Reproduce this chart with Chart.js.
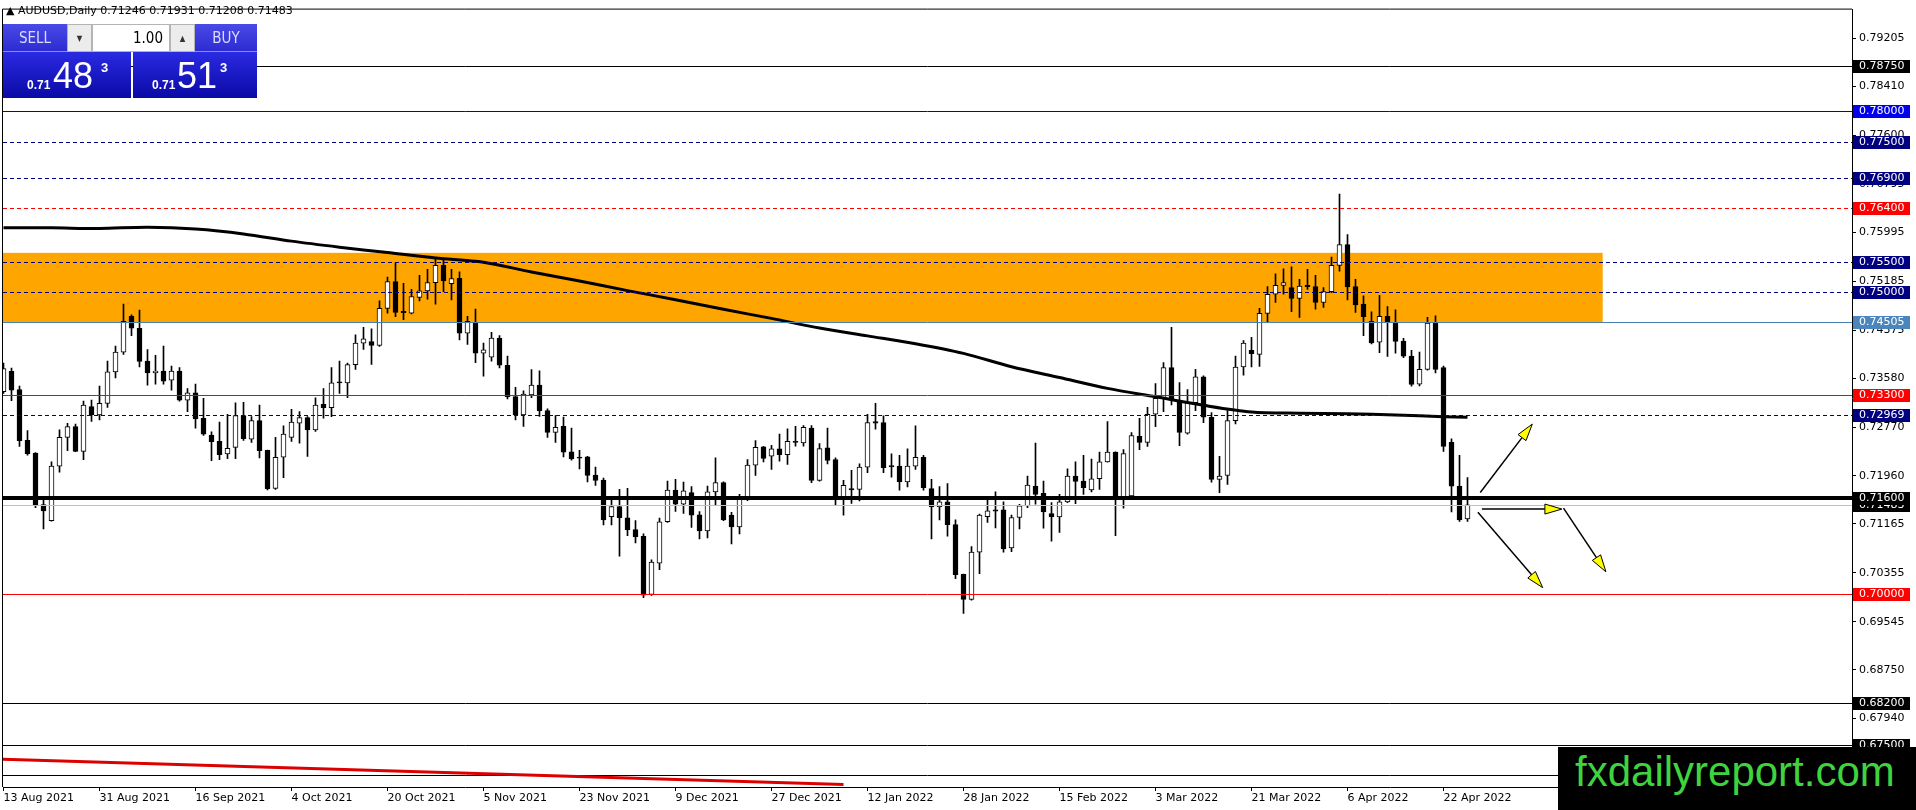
<!DOCTYPE html>
<html>
<head>
<meta charset="utf-8">
<title>AUDUSD Daily</title>
<script src="https://cdn.jsdelivr.net/npm/chart.js@4.4.0/dist/chart.umd.min.js"></script>
<style>
html, body { margin: 0; padding: 0; background: #fff; }
#wrap { position: relative; width: 1916px; height: 810px; overflow: hidden; }
#chart { position: absolute; left: 0; top: 0; }
#hdr { position: absolute; left: 6px; top: 4px; font: 11px "DejaVu Sans", sans-serif; color: #000; white-space: nowrap; }
.btn { position: absolute; box-sizing: border-box; display: flex; align-items: center; justify-content: center; font-family: "DejaVu Sans Condensed", "DejaVu Sans", sans-serif; }
.blueTop { background: linear-gradient(#4a4ae6, #2c2cd2); color: #dcdcff; font-size: 15px; border-bottom: 1px solid #8c8cf0; }
.grey { background: #ececec; border: 1px solid #b4b4b4; color: #333; font-size: 8px; }
.inp { background: #fff; border: 1px solid #b4b4b4; justify-content: flex-end; padding-right: 6px; font-size: 15px; color: #000; }
.big { position: absolute; background: linear-gradient(#2a2ae2, #0a0aa6); }
.sm { position: absolute; font: bold 12px "Liberation Sans", Arial, sans-serif; color: #fff; line-height: 12px; }
.lg { position: absolute; font: 36px "Liberation Sans", Arial, sans-serif; color: #fff; line-height: 36px; }
.sup { position: absolute; font: bold 13px "Liberation Sans", Arial, sans-serif; color: #fff; line-height: 13px; }
#brand { position: absolute; left: 1558px; top: 747px; width: 358px; height: 63px; background: #000; }
#brand span { position: absolute; left: 17px; top: 4px; font: 42px "Liberation Sans", Arial, sans-serif; line-height: 42px; color: #3fd33f; white-space: nowrap; }
</style>
</head>
<body>
<div id="wrap">
<canvas id="chart" width="1916" height="810"></canvas>
<div id="hdr">▲ AUDUSD,Daily 0.71246 0.71931 0.71208 0.71483</div>

<div class="btn blueTop" style="left:3px;top:24px;width:64px;height:28px;">SELL</div>
<div class="btn grey" style="left:67px;top:24px;width:25px;height:28px;">▼</div>
<div class="btn inp" style="left:92px;top:24px;width:78px;height:28px;">1.00</div>
<div class="btn grey" style="left:170px;top:24px;width:25px;height:28px;">▲</div>
<div class="btn blueTop" style="left:195px;top:24px;width:62px;height:28px;">BUY</div>

<div class="big" style="left:3px;top:52px;width:128px;height:46px;"></div>
<div class="big" style="left:133px;top:52px;width:124px;height:46px;"></div>
<span class="sm" style="left:27px;top:79px;">0.71</span>
<span class="lg" style="left:53px;top:58px;">48</span>
<span class="sup" style="left:101px;top:61px;">3</span>
<span class="sm" style="left:152px;top:79px;">0.71</span>
<span class="lg" style="left:177px;top:58px;">51</span>
<span class="sup" style="left:220px;top:61px;">3</span>

<div id="brand"><span>fxdailyreport.com</span></div>
</div>

<script>
// daily candles, bar 0 = 13 Aug 2021, last bar = 27 Apr 2022
var openP = [
    0.73354,0.73694,0.73392,0.72548,0.72340,0.71485,0.71217,0.72121,0.72598,0.72778,
    0.72367,0.73107,0.72970,0.73162,0.73683,0.74011,0.74603,0.74406,0.73863,0.73666,
    0.73699,0.73546,0.73699,0.73217,0.73337,0.72915,0.72636,0.72532,0.72324,0.72433,
    0.72959,0.72570,0.72877,0.72384,0.71754,0.72269,0.72598,0.72833,0.72926,0.72724,
    0.73146,0.73091,0.73518,0.73502,0.73803,0.74159,0.74187,0.74121,0.74735,0.75179,
    0.74685,0.74658,0.74916,0.75025,0.75162,0.75447,0.75146,0.75233,0.74324,0.74505,
    0.73995,0.73929,0.74242,0.73793,0.73273,0.72971,0.73300,0.73465,0.73043,0.72681,
    0.72780,0.72358,0.72270,0.72276,0.71974,0.71892,0.71284,0.71453,0.71267,0.71070,
    0.70960,0.69996,0.70516,0.71201,0.71727,0.71492,0.71684,0.71317,0.71048,0.71695,
    0.71848,0.71311,0.71114,0.71574,0.72138,0.72440,0.72286,0.72407,0.72314,0.72533,
    0.72506,0.72752,0.71886,0.72424,0.72232,0.71601,0.71749,0.71738,0.72106,0.72862,
    0.72845,0.72133,0.72122,0.71859,0.72122,0.72270,0.71749,0.71448,0.71530,0.71152,
    0.70330,0.69914,0.70697,0.71284,0.71399,0.71397,0.70767,0.71271,0.71463,0.71792,
    0.71671,0.71337,0.71282,0.71529,0.71956,0.71874,0.71726,0.71913,0.72192,0.72356,
    0.71600,0.71628,0.72614,0.72515,0.72981,0.73244,0.73754,0.73217,0.72669,0.73173,
    0.73600,0.72932,0.71902,0.71967,0.72877,0.73765,0.74039,0.73973,0.74652,0.74970,
    0.75118,0.75080,0.74899,0.75118,0.75096,0.74833,0.75014,0.75447,0.75792,0.75096,
    0.74806,0.74521,0.74176,0.74603,0.74504,0.74192,0.73945,0.73480,0.73726,0.74493,
    0.73754,0.72515,0.71792,0.71246
];
var highP = [
    0.73831,0.73748,0.73447,0.72713,0.72345,0.71573,0.72192,0.72724,0.72833,0.72817,
    0.73200,0.73217,0.73447,0.73863,0.74110,0.74806,0.74631,0.74707,0.74055,0.73957,
    0.74110,0.73781,0.73754,0.73409,0.73480,0.73244,0.72691,0.72850,0.72981,0.73173,
    0.73178,0.72943,0.73135,0.72390,0.72598,0.72789,0.73063,0.73025,0.72943,0.73255,
    0.73409,0.73754,0.73863,0.73831,0.74296,0.74422,0.74395,0.74861,0.75255,0.75491,
    0.75151,0.75053,0.75283,0.75381,0.75573,0.75573,0.75381,0.75343,0.74603,0.74724,
    0.74159,0.74340,0.74286,0.73947,0.73426,0.73371,0.73722,0.73700,0.73070,0.72960,
    0.72933,0.72752,0.72385,0.72286,0.72106,0.71925,0.71574,0.71738,0.71755,0.71218,
    0.70999,0.70571,0.71262,0.71875,0.71903,0.71859,0.71782,0.71371,0.71793,0.72259,
    0.71864,0.71355,0.71656,0.72232,0.72544,0.72451,0.72467,0.72654,0.72741,0.72780,
    0.72796,0.72796,0.72495,0.72752,0.72259,0.71886,0.72051,0.72160,0.72982,0.73163,
    0.72955,0.72325,0.72303,0.72407,0.72791,0.72303,0.71903,0.71782,0.71832,0.71234,
    0.70335,0.70790,0.71327,0.71574,0.71695,0.71529,0.71310,0.71491,0.71956,0.72504,
    0.71874,0.71518,0.71655,0.72077,0.72192,0.72302,0.72241,0.72356,0.72861,0.72360,
    0.72395,0.72680,0.72915,0.73096,0.73491,0.73836,0.74422,0.73507,0.73392,0.73726,
    0.73617,0.73009,0.72285,0.73052,0.73946,0.74203,0.74258,0.74735,0.75096,0.75310,
    0.75392,0.75425,0.75217,0.75381,0.75283,0.75080,0.75584,0.76631,0.75957,0.75217,
    0.74943,0.74680,0.74954,0.74767,0.74713,0.74241,0.74039,0.74011,0.74587,0.74614,
    0.73781,0.72575,0.72301,0.71931
];
var lowP = [
    0.73326,0.73206,0.72450,0.72302,0.71436,0.71080,0.71210,0.72022,0.72378,0.72360,
    0.72230,0.72861,0.72888,0.73096,0.73584,0.73973,0.74285,0.73765,0.73463,0.73480,
    0.73480,0.73381,0.73200,0.73025,0.72751,0.72630,0.72214,0.72230,0.72247,0.72247,
    0.72548,0.72515,0.72258,0.71726,0.71737,0.71929,0.72532,0.72504,0.72285,0.72696,
    0.72915,0.72943,0.73326,0.73255,0.73726,0.74055,0.73809,0.74105,0.74658,0.74598,
    0.74548,0.74642,0.74861,0.74888,0.74806,0.75014,0.74877,0.74214,0.74137,0.73836,
    0.73611,0.73863,0.73750,0.73234,0.72889,0.72780,0.73256,0.72944,0.72599,0.72517,
    0.72275,0.72221,0.72078,0.71859,0.71804,0.71147,0.71147,0.70631,0.70971,0.70851,
    0.69941,0.69980,0.70407,0.71190,0.71371,0.71338,0.71108,0.70916,0.70933,0.71475,
    0.71220,0.70834,0.70999,0.71550,0.71969,0.72193,0.72067,0.72204,0.72149,0.72451,
    0.72451,0.71848,0.71875,0.72160,0.71475,0.71311,0.71503,0.71547,0.72012,0.72736,
    0.72012,0.71941,0.71722,0.71777,0.72067,0.71722,0.70916,0.71229,0.70960,0.70259,
    0.69683,0.69903,0.70341,0.71190,0.71097,0.70696,0.70707,0.71080,0.71436,0.71491,
    0.71096,0.70877,0.71025,0.71518,0.71502,0.71655,0.71693,0.71737,0.72186,0.70970,
    0.71425,0.71600,0.72395,0.72450,0.72778,0.73025,0.73135,0.72461,0.72652,0.73041,
    0.72844,0.71858,0.71682,0.71819,0.72822,0.73628,0.73765,0.73776,0.74504,0.74833,
    0.74970,0.74680,0.74587,0.75052,0.74724,0.74751,0.74998,0.75354,0.74877,0.74669,
    0.74285,0.74148,0.74000,0.73940,0.73995,0.73918,0.73447,0.73452,0.73710,0.73666,
    0.72367,0.71364,0.71205,0.71208
];
var closeP = [
    0.73737,0.73381,0.72543,0.72329,0.71474,0.71381,0.72121,0.72598,0.72778,0.72367,
    0.73135,0.72970,0.73162,0.73683,0.74011,0.74521,0.74406,0.73858,0.73666,0.73699,
    0.73529,0.73699,0.73217,0.73337,0.72904,0.72652,0.72526,0.72313,0.72417,0.72959,
    0.72576,0.72877,0.72378,0.71748,0.72269,0.72652,0.72850,0.72926,0.72724,0.73135,
    0.73091,0.73502,0.73502,0.73803,0.74159,0.74231,0.74121,0.74735,0.75179,0.74669,
    0.74664,0.74932,0.75025,0.75162,0.75447,0.75190,0.75228,0.74324,0.74521,0.73995,
    0.74050,0.74242,0.73793,0.73273,0.72971,0.73317,0.73465,0.73043,0.72681,0.72763,
    0.72352,0.72243,0.72254,0.71969,0.71886,0.71229,0.71453,0.71267,0.71064,0.70949,
    0.69985,0.70533,0.71201,0.71727,0.71492,0.71711,0.71311,0.71048,0.71695,0.71848,
    0.71229,0.71114,0.71574,0.72138,0.72434,0.72248,0.72407,0.72314,0.72533,0.72517,
    0.72763,0.71886,0.72412,0.72215,0.71601,0.71804,0.71727,0.72106,0.72845,0.72834,
    0.72095,0.72111,0.71859,0.72122,0.72270,0.71766,0.71448,0.71530,0.71152,0.70325,
    0.69914,0.70697,0.71311,0.71382,0.71377,0.70751,0.71271,0.71463,0.71808,0.71655,
    0.71365,0.71282,0.71529,0.71956,0.71869,0.71765,0.71913,0.72192,0.72356,0.71600,
    0.72329,0.72630,0.72515,0.72981,0.73244,0.73754,0.73217,0.72680,0.73173,0.73600,
    0.72932,0.71902,0.71956,0.72877,0.73765,0.74159,0.73984,0.74652,0.74970,0.75118,
    0.75162,0.74899,0.75107,0.75096,0.74833,0.75014,0.75447,0.75792,0.75091,0.74795,
    0.74598,0.74165,0.74603,0.74504,0.74187,0.73945,0.73474,0.73726,0.74493,0.73726,
    0.72449,0.71792,0.71233,0.71483
];

// moving average at a few bars
var smaBars = [0, 6, 12, 18, 24, 30, 36, 42, 48, 54, 60, 66, 72, 78, 84, 90, 96, 102,
    108, 114, 120, 126, 132, 138, 144, 150, 156, 162, 168, 174, 180, 183];
var smaVals = [0.7607, 0.7607, 0.7606, 0.7608, 0.7605, 0.7597, 0.7585, 0.7575, 0.7566, 0.7557,
    0.7550, 0.7534, 0.7519, 0.7503, 0.7488, 0.7472, 0.7457, 0.7441, 0.7428, 0.7415,
    0.7399, 0.7377, 0.7359, 0.7341, 0.7327, 0.7313, 0.7302, 0.7300, 0.7299, 0.7297,
    0.7294, 0.7293];

var xTickBars = [0, 12, 24, 36, 48, 60, 72, 84, 96, 108, 120, 132, 144, 156, 168, 180];
var xTickLabels = ['13 Aug 2021', '31 Aug 2021', '16 Sep 2021', '4 Oct 2021', '20 Oct 2021',
    '5 Nov 2021', '23 Nov 2021', '9 Dec 2021', '27 Dec 2021', '12 Jan 2022', '28 Jan 2022',
    '15 Feb 2022', '3 Mar 2022', '21 Mar 2022', '6 Apr 2022', '22 Apr 2022'];
var yTickVals = [0.79205, 0.78410, 0.77600, 0.76795, 0.75995, 0.75185, 0.74375, 0.73580,
    0.72770, 0.71960, 0.71165, 0.70355, 0.69545, 0.68750, 0.67940, 0.67130];

// horizontal levels drawn on the chart
var levelPrices = [0.78750, 0.78000, 0.77500, 0.76900, 0.76400, 0.75500, 0.75000, 0.74505,
    0.73300, 0.72969, 0.71483, 0.71600, 0.70000, 0.68200, 0.67500, 0.67000];
// supply zone: bars and prices
var zoneBars = [-20, 199.9];
var zonePrices = [0.74505, 0.75656];
// red trend line at the bottom
var trendBars = [-0.4, 105];
var trendPrices = [0.67267, 0.66848];
// scenario arrows [bar, price]
var arrowFrom = [[184.6, 0.71686], [184.8, 0.71411], [195.0, 0.71427], [184.3, 0.71358]];
var arrowTo = [[191.1, 0.72819], [194.8, 0.71411], [200.3, 0.70372], [192.4, 0.70109]];

var NAVY = '#000080', RED = '#ff0000';
var levelLook = [
    {c: '#000000', w: 1, d: false, bg: '#000000'},
    {c: '#0000cd', w: 1, d: false, bg: '#0000ee'},
    {c: NAVY, w: 1, d: true, bg: NAVY},
    {c: NAVY, w: 1, d: true, bg: NAVY},
    {c: RED, w: 1, d: true, bg: RED},
    {c: NAVY, w: 1, d: true, bg: NAVY},
    {c: NAVY, w: 1, d: true, bg: NAVY},
    {c: '#4682b4', w: 1, d: false, bg: '#4a86bc'},
    {c: RED, w: 1, d: false, bg: RED},
    {c: NAVY, w: 1, d: true, bg: NAVY},
    {c: '#c0c0c0', w: 1, d: false, bg: '#000000'},
    {c: '#000000', w: 4, d: false, bg: '#000000'},
    {c: RED, w: 1, d: false, bg: RED},
    {c: '#000000', w: 1, d: false, bg: '#000000'},
    {c: '#000000', w: 1, d: false, bg: '#000000'},
    {c: '#000000', w: 1, d: false, bg: '#000000'}
];

var AXIS_FONT = {family: 'DejaVu Sans', size: 11};

var wickData = openP.map(function(o, i) { return {x: i, y: [lowP[i], highP[i]]}; });
var bodyData = openP.map(function(o, i) { return {x: i, y: [o, closeP[i]]}; });
var bodyColors = openP.map(function(o, i) { return closeP[i] >= o ? '#ffffff' : '#000000'; });
var smaData = smaBars.map(function(b, i) { return {x: b, y: smaVals[i]}; });

function drawArrow(ctx, x0, y0, x1, y1) {
    var ang = Math.atan2(y1 - y0, x1 - x0), L = 17, W = 5;
    var bx = x1 - L * Math.cos(ang), by = y1 - L * Math.sin(ang);
    ctx.setLineDash([]);
    ctx.strokeStyle = '#000';
    ctx.lineWidth = 1.5;
    ctx.beginPath();
    ctx.moveTo(x0, y0);
    ctx.lineTo(bx, by);
    ctx.stroke();
    ctx.beginPath();
    ctx.moveTo(x1, y1);
    ctx.lineTo(bx + W * Math.sin(ang), by - W * Math.cos(ang));
    ctx.lineTo(bx - W * Math.sin(ang), by + W * Math.cos(ang));
    ctx.closePath();
    ctx.fillStyle = '#ffff00';
    ctx.fill();
    ctx.lineWidth = 1;
    ctx.stroke();
}

var mtObjects = {
    id: 'mtObjects',
    beforeDatasetsDraw: function(chart) {
        var ctx = chart.ctx, a = chart.chartArea, xs = chart.scales.x, ys = chart.scales.y;
        ctx.save();
        ctx.beginPath();
        ctx.rect(a.left, a.top, a.right - a.left, a.bottom - a.top);
        ctx.clip();
        var x0 = xs.getPixelForValue(zoneBars[0]), x1 = xs.getPixelForValue(zoneBars[1]);
        var yT = ys.getPixelForValue(zonePrices[1]), yB = ys.getPixelForValue(zonePrices[0]);
        ctx.fillStyle = '#ffa500';
        ctx.fillRect(x0, yT, x1 - x0, yB - yT);
        ctx.restore();
    },
    afterDatasetsDraw: function(chart) {
        var ctx = chart.ctx, a = chart.chartArea, xs = chart.scales.x, ys = chart.scales.y;
        ctx.save();
        ctx.beginPath();
        ctx.rect(a.left, a.top, a.right - a.left, a.bottom - a.top);
        ctx.clip();

        levelPrices.forEach(function(p, i) {
            var lk = levelLook[i];
            var py = Math.round(ys.getPixelForValue(p)) + (lk.w % 2 ? 0.5 : 0);
            ctx.strokeStyle = lk.c;
            ctx.lineWidth = lk.w;
            ctx.setLineDash(lk.d ? [4, 3] : []);
            ctx.beginPath();
            ctx.moveTo(a.left, py);
            ctx.lineTo(a.right, py);
            ctx.stroke();
        });

        ctx.setLineDash([]);
        ctx.strokeStyle = '#dd0000';
        ctx.lineWidth = 3;
        ctx.beginPath();
        ctx.moveTo(xs.getPixelForValue(trendBars[0]), ys.getPixelForValue(trendPrices[0]));
        ctx.lineTo(xs.getPixelForValue(trendBars[1]), ys.getPixelForValue(trendPrices[1]));
        ctx.stroke();

        arrowFrom.forEach(function(f, i) {
            var t = arrowTo[i];
            drawArrow(ctx, xs.getPixelForValue(f[0]), ys.getPixelForValue(f[1]),
                xs.getPixelForValue(t[0]), ys.getPixelForValue(t[1]));
        });
        ctx.restore();

        // window frame, top and left
        ctx.save();
        ctx.strokeStyle = '#000';
        ctx.lineWidth = 1;
        ctx.beginPath();
        ctx.moveTo(a.left - 0.5, a.bottom);
        ctx.lineTo(a.left - 0.5, a.top - 0.5);
        ctx.lineTo(a.right, a.top - 0.5);
        ctx.stroke();
        ctx.restore();
    },
    afterDraw: function(chart) {
        var ctx = chart.ctx, a = chart.chartArea, ys = chart.scales.y;
        ctx.save();
        ctx.font = '11px "DejaVu Sans"';
        ctx.textBaseline = 'middle';
        ctx.textAlign = 'left';
        levelPrices.forEach(function(p, i) {
            var py = Math.round(ys.getPixelForValue(p));
            ctx.fillStyle = levelLook[i].bg;
            ctx.fillRect(a.right + 1, py - 6, 57, 13);
            ctx.fillStyle = '#ffffff';
            ctx.fillText(p.toFixed(5), a.right + 7, py + 0.5);
        });
        ctx.restore();
    }
};

var config = {
    type: 'bar',
    data: {
        datasets: [{
            type: 'line',
            label: 'MA',
            data: smaData,
            borderColor: '#000000',
            borderWidth: 3,
            pointRadius: 0,
            fill: false,
            tension: 0.3,
            order: 0
        }, {
            label: 'body',
            data: bodyData,
            backgroundColor: bodyColors,
            borderColor: '#000000',
            borderWidth: 1,
            borderSkipped: false,
            barThickness: 5,
            minBarLength: 1,
            grouped: false,
            order: 1
        }, {
            label: 'wick',
            data: wickData,
            backgroundColor: '#000000',
            borderWidth: 0,
            barThickness: 1,
            grouped: false,
            order: 2
        }]
    },
    options: {
        responsive: false,
        animation: false,
        layout: { padding: { left: 3, top: 3, right: 0, bottom: 0 } },
        plugins: {
            legend: { display: false },
            tooltip: { enabled: false }
        },
        scales: {
            x: {
                type: 'linear',
                min: -0.0625,
                max: 231.0625,
                offset: false,
                afterBuildTicks: function(scale) {
                    scale.ticks = xTickBars.map(function(v) { return {value: v}; });
                },
                afterFit: function(scale) { scale.height = 23; },
                grid: { drawOnChartArea: false, offset: false, tickLength: 4, color: '#000000' },
                border: { color: '#000000' },
                ticks: {
                    autoSkip: false,
                    maxRotation: 0,
                    align: 'start',
                    padding: 1,
                    color: '#000000',
                    font: AXIS_FONT,
                    callback: function(v) {
                        var i = xTickBars.indexOf(v);
                        return i >= 0 ? xTickLabels[i] : '';
                    }
                }
            },
            y: {
                position: 'right',
                min: 0.66806,
                max: 0.79686,
                afterBuildTicks: function(scale) {
                    scale.ticks = yTickVals.map(function(v) { return {value: v}; });
                },
                afterFit: function(scale) { scale.width = 64; },
                grid: { drawOnChartArea: false, tickLength: 4, color: '#000000' },
                border: { color: '#000000' },
                ticks: {
                    autoSkip: false,
                    padding: 3,
                    color: '#000000',
                    font: AXIS_FONT,
                    callback: function(v) { return v.toFixed(5); }
                }
            }
        }
    },
    plugins: [mtObjects]
};

window.onload = function() {
    window.myChart = new Chart(document.getElementById('chart'), config);
};
</script>
</body>
</html>
